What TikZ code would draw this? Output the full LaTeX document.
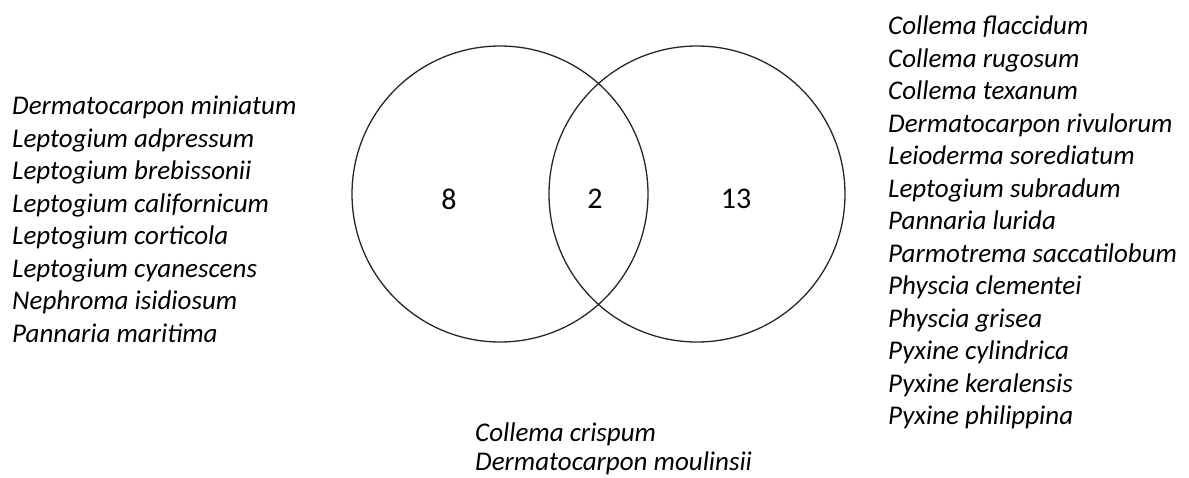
\documentclass[tikz,border=0pt]{standalone}
\usepackage{fontspec}
\setmainfont{Carlito}
\usetikzlibrary{positioning}

\begin{document}
\begin{tikzpicture}[x=1pt, y=-1pt,
    every node/.style={font=\fontsize{27}{32.5}\selectfont, inner sep=0pt},
    set/.style={circle, draw=black!85, line width=1.3pt, minimum size=296pt},
    count/.style={anchor=center, font=\fontsize{30}{36}\selectfont},
    taxa/.style={align=left, anchor=north west,
                 font=\fontsize{27}{32.5}\selectfont\itshape}]
  \useasboundingbox (0,0) rectangle (1189,477);

  %% the two sets
  \node[set] (setL) at (500,194) {};
  \node[set] (setR) at (697,194) {};

  %% counts
  \node[count] (onlyL) at (449,199) {8};
  \node[count] (both)  at (595,199) {2};
  \node[count] (onlyR) at (736,199) {13};

  %% species of the left set only
  \node[taxa] (listL) at (12,96)
    {Dermatocarpon miniatum\\ Leptogium adpressum\\ Leptogium brebissonii\\
     Leptogium californicum\\ Leptogium corticola\\ Leptogium cyanescens\\
     Nephroma isidiosum\\ Pannaria maritima};

  %% species of the right set only
  \node[taxa] (listR) at (888,16)
    {Collema flaccidum\\ Collema rugosum\\ Collema texanum\\
     Dermatocarpon rivulorum\\ Leioderma sorediatum\\ Leptogium subradum\\
     Pannaria lurida\\ Parmotrema saccatilobum\\ Physcia clementei\\
     Physcia grisea\\ Pyxine cylindrica\\ Pyxine keralensis\\ Pyxine philippina};

  %% species shared by both
  \node[taxa, font=\fontsize{27}{29}\selectfont\itshape] (listB) at (475,423)
    {Collema crispum\\ Dermatocarpon moulinsii};
\end{tikzpicture}
\end{document}
